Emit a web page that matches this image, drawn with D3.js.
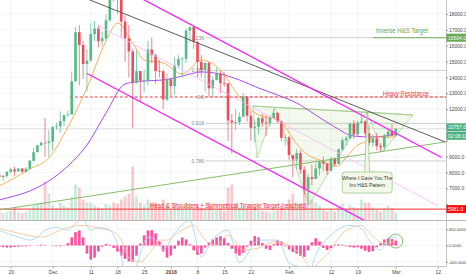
<!DOCTYPE html>
<html>
<head>
<meta charset="utf-8">
<script src="https://cdn.jsdelivr.net/npm/d3@7"></script>
<style>
html, body { margin: 0; padding: 0; background: #fff; overflow: hidden; }
svg { display: block; font-family: "Liberation Sans", Arial, sans-serif; }
</style>
</head>
<body>
<div id="chart"></div>
<script>
const svgWidth = 466;
const svgHeight = 275;
const plotRight = 446;
const mainBottom = 220.5;
const subTop = 220.5;
const subBottom = 266.5;

// one candle per day, first one is 2017-11-17
const firstDay = Date.UTC(2017, 10, 17);
const dayMs = 864e5;

const opens = [7853,7708,7790,8037,8200,8071,8247,8046,8234,8739,9284,9719,9878,9857,9946,10861,10912,11246,11623,11667,
  13750,16850,16047,14843,15059,16733,17083,16286,16467,17604,19345,19065,18972,17523,16461,15632,13665,14396,13790,13834,
  15750,15400,14398,14381,12600,13880,13444,14755,15157,15180,16954,17172,16228,14976,14468,14919,13308,13841,14244,13638,
  13631,11282,11163,11176,11521,12783,11580,10820,10890,11429,11150,11125,11440,11765,11212,10185,10221,9100,8830,9224,
  8186,6937,7700,7594,8250,8690,8559,8100,8890,8527,9465,10030,10167,11080,10400,11150,11230,10470,9870,10150,
  9670,9590,10330,10590,10320];
const highs = [8004,7849,8101,8300,8370,8300,8268,8336,8790,9560,9736,9960,11434,10690,10940,11150,11851,11612,11900,14369,
  17170,17294,16300,15800,17400,17550,17300,16900,18000,19400,19666,19200,19000,17900,17300,15800,15700,14400,14500,16300,
  16500,15500,15100,14500,14250,13900,15300,15400,15300,17100,17200,17200,16300,15400,14900,14950,14100,14600,14400,14300,
  13650,11700,12000,11800,13000,12800,11900,11300,11500,11700,11600,11600,12000,11800,11300,10400,10300,9100,9500,9400,
  8400,7900,8500,8600,8730,9000,8560,8950,8950,9500,10200,10300,11100,11300,11250,11790,11300,11000,10400,10500,
  9840,10450,10880,11050,10800];
const lows = [7561,7459,7675,7939,7800,8061,8038,8000,8160,8700,9260,9653,9000,9000,9400,10690,10500,10918,11500,11667,
  13750,13500,13900,13100,15000,16300,15900,16000,16300,17500,18800,18000,16500,15000,14000,10800,13600,12500,13100,13500,
  14900,13600,14000,12000,12500,12800,12900,14600,14000,14900,16200,15800,14000,14000,13100,12800,12800,13800,13000,13400,
  10000,9200,10700,11000,11500,11200,10000,9900,10400,10900,10300,10900,11400,11100,9980,9700,8800,7700,8200,7900,
  6600,5968,7200,7600,7800,8100,7850,8100,8350,8530,9350,9700,10100,10100,10300,11100,10200,9700,9600,9400,
  9300,9400,10150,10300,10250];
const closes = [7708,7790,8037,8200,8071,8247,8046,8234,8739,9284,9719,9878,9857,9946,10861,10912,11246,11623,11667,13750,
  16850,16047,14843,15059,16733,17083,16286,16467,17604,19345,19065,18972,17523,16461,15632,13665,14396,13790,13834,15750,
  15400,14398,14381,12600,13880,13444,14755,15157,15180,16954,17172,16228,14976,14468,14919,13308,13841,14244,13638,13631,
  11282,11163,11176,11521,12783,11580,10820,10890,11429,11150,11125,11440,11765,11212,10185,10221,9100,8830,9224,8186,
  6937,7700,7594,8250,8690,8559,8100,8890,8527,9465,10030,10167,11080,10400,11150,11230,10470,9870,10150,9670,
  9590,10330,10590,10320,10757];
const volumes = [15,12,14,16,20,14,12,15,18,25,28,30,65,45,25,20,30,25,22,40,
  60,55,35,30,30,25,22,20,28,25,30,28,35,40,45,90,40,30,25,35,
  30,30,22,35,25,18,28,22,20,30,22,20,25,22,20,30,22,18,20,16,
  55,60,30,22,25,20,25,22,18,16,15,14,16,18,25,22,35,45,30,30,
  55,65,35,30,25,18,15,18,15,22,28,18,25,22,20,35,30,30,22,18,
  15,22,25,20,12];

// moving averages: [day index, price]
const maFast = [[0,7149],[3,7527],[8,8221],[13,8915],[18,10871],[23,13331],[28,16297],[31,17430],[35,16170],[38,15098],
  [43,14909],[48,14215],[53,15098],[58,14467],[63,12764],[68,11628],[73,11312],[75,10871],[78,9800],[81,9104],[84,8789],
  [87,8473],[89,8410],[90,8663],[92,9231],[94,9735],[96,9924],[99,10240],[102,10240],[104,10240]];
const maSlow = [[0,6265],[3,6455],[8,6833],[13,7464],[18,8410],[23,9735],[28,11754],[33,13584],[38,13773],[43,13836],
  [48,14088],[53,14341],[58,14214],[63,13836],[68,13331],[73,12890],[78,12385],[83,11628],[88,10871],[93,10300],
  [98,10240],[104,10420]];

// MACD pane
const histValues = [-30,-40,-50,-50,-40,-30,-20,-20,-10,0,10,20,10,0,-10,-20,-20,-10,
  60,200,330,370,200,-200,-350,-300,-150,-30,
  40,20,-60,-150,-250,-330,-390,-400,-250,
  50,250,370,380,300,100,-150,-300,-250,-80,
  120,200,150,30,-120,-230,-200,-50,80,150,
  200,230,180,60,-80,-200,-250,-180,-30,120,
  230,200,60,-80,-110,30,130,100,-20,-100,
  -160,-200,-260,-280,-120,80,180,100,-60,-110,
  -60,20,30,20,-20,-40,-50,-40,-80,-130,
  -160,-140,-40,60,150,180,160,120];
const macdLine = [[0,376],[5,206],[8,133],[10,206],[12,376],[15,448],[18,376],[20,545],[22,667],[23,497],[24,376],
  [26,448],[29,376],[32,-279],[33,-667],[35,-642],[39,206],[41,133],[43,-109],[46,300],[50,618],[53,-279],[56,150],
  [60,376],[63,-424],[68,133],[73,133],[76,-424],[79,-545],[81,-715],[83,-230],[87,255],[92,497],[95,424],[97,133],
  [100,-109],[102,182],[104,206]];
const signalLine = [[0,424],[5,303],[11,206],[16,376],[21,497],[24,473],[26,424],[29,376],[32,133],[34,-303],[37,-400],
  [40,-109],[42,133],[44,133],[47,327],[51,497],[54,133],[57,12],[60,255],[64,-109],[68,-61],[72,85],[76,12],[79,-230],
  [82,-545],[84,-400],[87,-109],[89,182],[92,424],[95,497],[97,327],[100,85],[102,61],[104,133]];

// drawings: [day index, price]
const upperChannel = [[30,19910],[116,8947]];
const lowerChannel = [[23,14246],[100,4436]];
const midChannel = [[26,17262],[115,5910]];
const longDownTrend = [[20,19250],[117,9925]];
const riseSupport = [[0,5640],[117,9931]];
const hsPoints = [[66.5,12196],[67.6,8915],[72.3,12101],[81.2,5950],[96.4,11817],[100.6,9294],[108.5,11628]];

const fibLevels = ["0.236","0.382","0.5","0.618","0.786"];
const fibPrices = [16504,14440,12770,11100,8730];
const fibStartDay = 54;
const heavyResistance = 12764;
const heavyStartDay = 18.5;
const inverseTarget = 16504;
const inverseStartDay = 98;
const targetLine = 5690;
const lastPrice = 10757;

const priceTicks = [6000,7000,8000,9000,10000,11000,12000,13000,14000,15000,16000,17000,18000];
const hiddenPriceLabels = [6000,10000,11000]; // covered by the price boxes
const macdTicks = [-400,0,400];
const dateTicks = ["2017-11-20","2017-12-01","2017-12-11","2017-12-18","2017-12-25","2018-01-01","2018-01-08",
  "2018-01-15","2018-01-22","2018-02-01","2018-02-12","2018-02-19","2018-03-01","2018-03-12"];
const dateLabels = ["20","Dec","11","18","25","2018","8","15","22","Feb","12","19","Mar","12"];

// scales
const x = d3.scaleUtc().domain([Date.UTC(2017,10,20), Date.UTC(2018,2,12)]).range([10.7, 437.7]);
const y = d3.scaleLinear().domain([6000, 18000]).range([204.2, 14]);
const yVol = d3.scaleLinear().domain([0, 100]).range([mainBottom, mainBottom - 60]);
const yM = d3.scaleLinear().domain([-400, 400]).range([261.7, 229.3]);
const dayX = i => x(new Date(firstDay + i * dayMs));

const svg = d3.select("#chart").append("svg").attr("width", svgWidth).attr("height", svgHeight);
svg.append("rect").attr("width", svgWidth).attr("height", svgHeight).attr("fill", "#fff");

const defs = svg.append("defs");
defs.append("clipPath").attr("id", "clipMain").append("rect")
  .attr("x", 0).attr("y", 0).attr("width", plotRight).attr("height", mainBottom);
defs.append("clipPath").attr("id", "clipSub").append("rect")
  .attr("x", 0).attr("y", subTop).attr("width", plotRight).attr("height", subBottom - subTop);

// grid
const grid = svg.append("g").attr("stroke", "#eef1f5").attr("stroke-width", 0.7);
grid.selectAll(".hg").data(priceTicks).join("line")
  .attr("x1", 0).attr("x2", plotRight).attr("y1", d => y(d)).attr("y2", d => y(d));
grid.selectAll(".mg").data(macdTicks).join("line").attr("class", "mg")
  .attr("x1", 0).attr("x2", plotRight).attr("y1", d => yM(d)).attr("y2", d => yM(d));
grid.selectAll(".vg").data(dateTicks).join("line").attr("class", "vg")
  .attr("x1", d => x(new Date(d))).attr("x2", d => x(new Date(d))).attr("y1", 0).attr("y2", subBottom);

const main = svg.append("g").attr("clip-path", "url(#clipMain)");
const idx = d3.range(closes.length);

// volume
main.append("g").selectAll("rect").data(idx).join("rect")
  .attr("x", i => dayX(i) - 1.4).attr("width", 2.8)
  .attr("y", i => yVol(volumes[i])).attr("height", i => mainBottom - yVol(volumes[i]))
  .attr("fill", i => closes[i] >= opens[i] ? "rgba(83,185,135,0.3)" : "rgba(235,77,92,0.3)");

// fib levels
const fib = main.append("g");
fib.selectAll("line").data(fibPrices).join("line")
  .attr("x1", dayX(fibStartDay)).attr("x2", plotRight).attr("y1", d => y(d)).attr("y2", d => y(d))
  .attr("stroke", "#c9c9c9").attr("stroke-width", 0.9);
fib.selectAll("text").data(fibPrices).join("text")
  .attr("x", dayX(fibStartDay) - 1).attr("y", d => y(d) + 1.8).attr("text-anchor", "end")
  .attr("font-size", 5).attr("fill", "#8a8a8a").text((d, k) => fibLevels[k]);

// last price line
main.append("line").attr("x1", 0).attr("x2", plotRight).attr("y1", y(lastPrice)).attr("y2", y(lastPrice))
  .attr("stroke", "#cfcfcf").attr("stroke-width", 0.7);

// horizontal levels
main.append("line").attr("x1", dayX(heavyStartDay)).attr("x2", plotRight)
  .attr("y1", y(heavyResistance)).attr("y2", y(heavyResistance))
  .attr("stroke", "#f03c3c").attr("stroke-width", 1.1).attr("stroke-dasharray", "3,2");
main.append("line").attr("x1", 0).attr("x2", plotRight).attr("y1", y(targetLine)).attr("y2", y(targetLine))
  .attr("stroke", "#f52d2d").attr("stroke-width", 1);
main.append("line").attr("x1", dayX(inverseStartDay)).attr("x2", plotRight)
  .attr("y1", y(inverseTarget)).attr("y2", y(inverseTarget))
  .attr("stroke", "#7ab35f").attr("stroke-width", 1);

// inverse head & shoulders drawing
const hp = hsPoints.map(d => [dayX(d[0]), y(d[1])]);
main.append("g").selectAll("path").data([[hp[0], hp[1], hp[2]], [hp[2], hp[3], hp[4]], [hp[4], hp[5], hp[6]]])
  .join("path").attr("d", d => "M" + d.join("L") + "Z")
  .attr("fill", "rgba(139,195,74,0.1)").attr("stroke", "rgba(120,180,90,0.55)").attr("stroke-width", 0.8);
main.append("line").attr("x1", hp[0][0]).attr("y1", hp[0][1]).attr("x2", hp[6][0]).attr("y2", hp[6][1])
  .attr("stroke", "#9ccc84").attr("stroke-width", 0.9);

// moving averages
const maLine = d3.line().x(d => dayX(d[0])).y(d => y(d[1])).curve(d3.curveMonotoneX);
main.append("path").attr("d", maLine(maSlow)).attr("fill", "none").attr("stroke", "#a44cf2").attr("stroke-width", 1);
main.append("path").attr("d", maLine(maFast)).attr("fill", "none").attr("stroke", "#f8a845").attr("stroke-width", 0.9);

// candles
const candle = main.append("g").selectAll("g").data(idx).join("g")
  .attr("stroke", i => closes[i] >= opens[i] ? "#53b987" : "#eb4d5c")
  .attr("fill", i => closes[i] >= opens[i] ? "#53b987" : "#eb4d5c");
candle.append("line").attr("x1", i => dayX(i)).attr("x2", i => dayX(i))
  .attr("y1", i => y(highs[i])).attr("y2", i => y(lows[i])).attr("stroke-width", 0.7);
candle.append("rect").attr("x", i => dayX(i) - 1.3).attr("width", 2.6).attr("stroke", "none")
  .attr("y", i => y(Math.max(opens[i], closes[i])))
  .attr("height", i => Math.max(0.7, Math.abs(y(opens[i]) - y(closes[i]))));

// trend lines
const seg = d3.line().x(d => dayX(d[0])).y(d => y(d[1]));
main.append("path").attr("d", seg(midChannel)).attr("stroke", "#ffb6ff").attr("stroke-width", 0.8).attr("fill", "none");
main.append("path").attr("d", seg(riseSupport)).attr("stroke", "#86bd6c").attr("stroke-width", 1).attr("fill", "none");
main.append("path").attr("d", seg(longDownTrend)).attr("stroke", "#5c5c5c").attr("stroke-width", 1).attr("fill", "none");
main.append("path").attr("d", seg(upperChannel)).attr("stroke", "#ff1aff").attr("stroke-width", 1.3).attr("fill", "none");
main.append("path").attr("d", seg(lowerChannel)).attr("stroke", "#ff1aff").attr("stroke-width", 1.3).attr("fill", "none");

// annotations
main.append("text").attr("x", dayX(98.8)).attr("y", y(inverseTarget) - 4.5)
  .attr("font-size", 6.6).attr("fill", "#6aa84f").attr("textLength", 52).attr("lengthAdjust", "spacingAndGlyphs")
  .text("Inverse H&S Target");
main.append("text").attr("x", dayX(100.6)).attr("y", y(heavyResistance) - 1.4)
  .attr("font-size", 6.6).attr("fill", "#f03c3c").attr("textLength", 46).attr("lengthAdjust", "spacingAndGlyphs")
  .text("Heavy Resistance");
main.append("text").attr("x", dayX(39.5)).attr("y", y(targetLine) - 1)
  .attr("font-size", 6.6).attr("fill", "#f52d2d").attr("textLength", 157).attr("lengthAdjust", "spacingAndGlyphs")
  .text("Head & Shoulders + Symmetrical Triangle Target (reached)");

// callout
const tipX = dayX(96.5), tipY = y(11950), boxTop = y(8030);
main.append("path").attr("d", `M${tipX - 2.5},${boxTop + 0.5}L${tipX},${tipY}L${tipX + 2.5},${boxTop + 0.5}`)
  .attr("fill", "rgba(241,248,233,0.9)").attr("stroke", "#8fc47a").attr("stroke-width", 0.7);
main.append("rect").attr("x", tipX - 25).attr("y", boxTop).attr("width", 50).attr("height", 21).attr("rx", 3)
  .attr("fill", "rgba(241,248,233,0.95)").attr("stroke", "#8fc47a").attr("stroke-width", 0.7);
main.append("text").attr("x", tipX).attr("y", boxTop + 7.5).attr("text-anchor", "middle")
  .attr("font-size", 5).attr("fill", "#3a3a3a").text("Where I Gave You The");
main.append("text").attr("x", tipX).attr("y", boxTop + 14.5).attr("text-anchor", "middle")
  .attr("font-size", 5).attr("fill", "#3a3a3a").text("Inv H&S Pattern");

// MACD pane
const sub = svg.append("g").attr("clip-path", "url(#clipSub)");
sub.append("g").selectAll("rect").data(idx).join("rect")
  .attr("x", i => dayX(i) - 1.3).attr("width", 2.6)
  .attr("y", i => Math.min(yM(0), yM(histValues[i])))
  .attr("height", i => Math.abs(yM(histValues[i]) - yM(0)))
  .attr("fill", "#ff4f9c");
const mLine = d3.line().x(d => dayX(d[0])).y(d => yM(d[1])).curve(d3.curveMonotoneX);
sub.append("path").attr("d", mLine(signalLine)).attr("fill", "none").attr("stroke", "#fbc79b").attr("stroke-width", 0.9);
sub.append("path").attr("d", mLine(macdLine)).attr("fill", "none").attr("stroke", "#a9d6f5").attr("stroke-width", 0.9);
sub.append("circle").attr("cx", dayX(104)).attr("cy", yM(110)).attr("r", 7)
  .attr("fill", "none").attr("stroke", "#7ab35f").attr("stroke-width", 0.9);

// frame
svg.append("line").attr("x1", 0).attr("x2", svgWidth).attr("y1", subTop).attr("y2", subTop)
  .attr("stroke", "#b8b8b8").attr("stroke-width", 1);
svg.append("line").attr("x1", plotRight + 0.5).attr("x2", plotRight + 0.5).attr("y1", 0).attr("y2", subBottom)
  .attr("stroke", "#c4c4c4").attr("stroke-width", 1);

// axes
const axisStyle = g => {
  g.select(".domain").remove();
  g.selectAll(".tick line").attr("stroke", "#9a9a9a");
  g.selectAll("text").attr("font-size", 5).attr("fill", "#4a4a4a").attr("font-family", "Liberation Sans, Arial, sans-serif");
};
svg.append("g").attr("transform", `translate(${plotRight},0)`)
  .call(d3.axisRight(y).tickValues(priceTicks)
    .tickFormat(d => hiddenPriceLabels.includes(d) ? "" : d.toFixed(1)).tickSize(2).tickPadding(1))
  .call(axisStyle);
svg.append("g").attr("transform", `translate(${plotRight},0)`)
  .call(d3.axisRight(yM).tickValues(macdTicks).tickFormat(d => d.toFixed(4)).tickSize(2).tickPadding(0.5))
  .call(axisStyle)
  .call(g => g.selectAll("text").attr("font-size", 4.2).attr("font-family", "Liberation Sans Narrow, Arial Narrow, sans-serif"));
const xAxis = svg.append("g").attr("transform", `translate(0,${subBottom})`)
  .call(d3.axisBottom(x).tickValues(dateTicks.map(d => new Date(d)))
    .tickFormat((d, k) => dateLabels[k]).tickSize(2).tickPadding(1.5))
  .call(axisStyle);
xAxis.append("line").attr("x1", 0).attr("x2", plotRight + 0.5).attr("stroke", "#c4c4c4");
xAxis.selectAll(".tick text").filter((d, k) => dateLabels[k] === "2018").attr("font-weight", "bold");

// price labels on the axis
const priceBox = (yy, label, fill) => {
  const g = svg.append("g").attr("transform", `translate(${plotRight + 0.5},${yy})`);
  g.append("rect").attr("x", 0).attr("y", -4).attr("width", 19.5).attr("height", 8).attr("fill", fill);
  g.append("text").attr("x", 1.5).attr("y", 1.8).attr("font-size", 5).attr("fill", "#fff").text(label);
};
priceBox(y(inverseTarget), "16504.0", "#6aa84f");
priceBox(y(lastPrice) - 1.5, "10757.0", "#4cb380");
priceBox(y(lastPrice) + 7, "02:08:11", "#4cb380");
priceBox(y(targetLine), "5981.0", "#ff0a0a");
</script>
</body>
</html>
